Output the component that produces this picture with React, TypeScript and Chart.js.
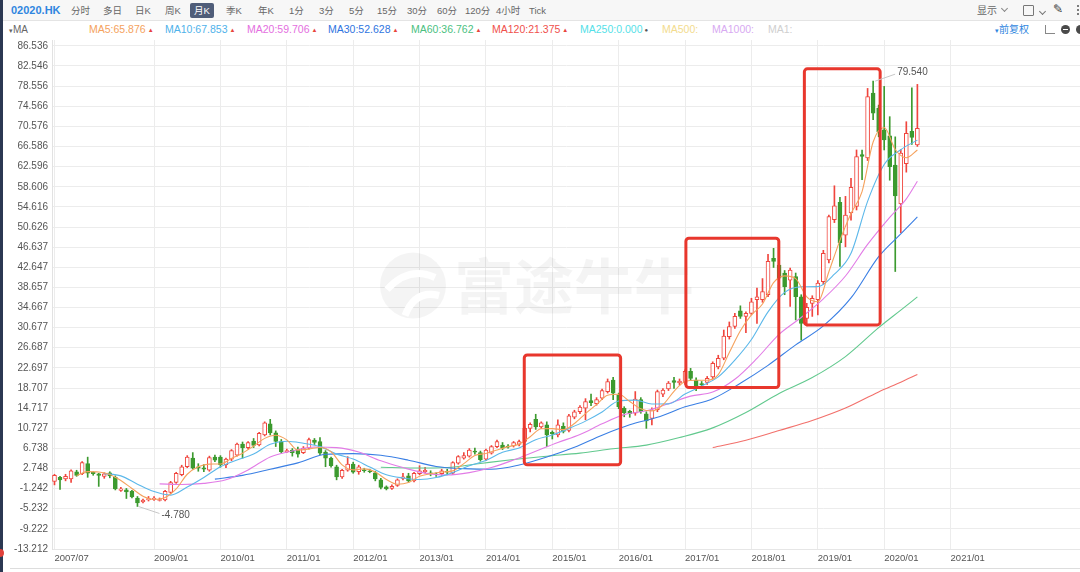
import React, { useEffect, useRef } from 'react';
import { Chart, registerables } from 'chart.js';

Chart.register(...registerables);

// Monthly candles, index 0 = 2007/07
const OPEN = [
  0.2, 1.0, 0.7, 0.7, 2.1, 1.7, 3.7, 2.0, 1.7, 1.2,
  1.9, 1.0, -1.6, -1.5, -1.8, -3.1, -3.9, -3.5, -3.4, -3.5,
  -3.5, -2.0, 0.0, 1.5, 3.1, 4.8, 3.1, 2.9, 2.4, 5.0,
  5.0, 3.5, 4.6, 5.4, 7.6, 6.9, 8.2, 7.4, 9.4, 11.6,
  9.8, 8.1, 6.1, 6.4, 6.6, 5.9, 6.8, 8.4, 8.1, 6.0,
  4.8, 3.1, 1.1, 2.4, 3.6, 2.1, 2.5, 2.3, 1.9, 0.5,
  -0.9, -1.2, -0.6, 0.8, 1.3, 0.3, 1.7, 2.1, 1.9, 1.6,
  1.7, 2.2, 1.8, 3.8, 4.8, 5.2, 6.2, 5.9, 4.6, 5.8,
  7.1, 7.4, 7.2, 7.2, 7.5, 8.1, 10.7, 12.5, 11.0, 11.4,
  9.9, 9.4, 11.1, 10.3, 12.9, 14.0, 14.7, 16.2, 15.6, 16.7,
  18.0, 20.3, 17.3, 14.7, 14.1, 13.7, 16.4, 13.6, 12.7, 14.4,
  17.5, 18.5, 20.2, 19.7, 19.7, 22.0, 20.3, 19.6, 19.8, 20.9,
  22.9, 24.6, 28.9, 30.9, 34.0, 32.9, 33.5, 36.2, 36.2, 37.2,
  44.4, 43.1, 41.5, 40.1, 40.8, 36.8, 32.5, 35.5, 36.2, 39.8,
  44.1, 52.1, 55.5, 49.0, 53.4, 54.7, 65.0, 64.3, 77.2, 74.2,
  69.9, 68.7, 62.9, 55.2, 63.2, 69.6, 66.9,
];
const HIGH = [
  1.6, 1.2, 1.6, 2.5, 2.4, 4.1, 5.0, 2.1, 1.8, 1.9,
  2.1, 1.3, -1.0, -1.2, -1.6, -2.8, -3.3, -2.8, -2.8, -3.1,
  -1.6, 0.2, 2.0, 3.4, 5.3, 5.9, 3.7, 3.5, 5.2, 5.4,
  5.3, 4.8, 6.5, 7.8, 8.0, 8.1, 8.7, 9.9, 12.0, 12.5,
  10.2, 8.5, 6.6, 6.7, 7.0, 7.1, 8.8, 8.7, 8.9, 6.3,
  5.0, 3.4, 2.6, 5.1, 4.0, 3.4, 2.8, 2.6, 2.2, 0.8,
  -0.7, -0.5, 0.7, 1.8, 1.8, 2.0, 3.3, 3.0, 2.3, 1.9,
  2.6, 2.6, 4.1, 5.3, 5.9, 6.7, 6.8, 6.2, 6.6, 7.3,
  8.4, 7.9, 7.5, 8.1, 8.4, 11.0, 11.8, 13.5, 12.0, 12.0,
  10.2, 12.4, 11.8, 13.5, 14.3, 15.2, 16.6, 17.5, 16.8, 18.5,
  20.5, 20.8, 17.7, 15.0, 14.3, 18.0, 16.8, 14.0, 14.8, 18.3,
  18.6, 20.0, 20.8, 20.5, 22.3, 22.6, 20.7, 20.0, 21.0, 23.9,
  25.2, 30.2, 31.8, 33.5, 35.0, 33.8, 36.5, 38.5, 40.4, 45.2,
  46.4, 43.5, 42.0, 42.5, 41.5, 37.2, 35.5, 37.0, 40.0, 46.0,
  53.0, 58.8, 56.5, 56.7, 60.3, 65.9, 65.9, 78.1, 79.54, 74.8,
  78.5, 72.5, 68.5, 66.0, 71.5, 78.2, 78.9,
];
const LOW = [
  -0.5, -1.4, 0.3, 0.0, 1.2, 1.5, 1.0, 1.4, -0.8, 0.8,
  0.9, -1.5, -1.8, -3.2, -3.1, -4.78, -4.1, -3.7, -3.6, -3.7,
  -3.7, -2.2, -0.2, 1.3, 2.9, 2.6, 2.2, 2.1, 2.2, 4.1,
  3.0, 2.9, 4.3, 5.2, 4.8, 6.6, 6.9, 7.2, 9.2, 9.4,
  7.1, 5.8, 5.9, 5.2, 5.0, 5.7, 6.6, 7.5, 5.5, 3.1,
  3.0, 0.5, 0.8, 2.2, 1.8, 1.6, 2.0, 1.9, 0.3, -1.3,
  -1.5, -1.4, -0.8, 0.5, 0.0, 0.1, 1.5, 1.8, 1.3, 1.2,
  1.4, 1.5, 1.6, 3.6, 4.6, 5.0, 5.6, 4.2, 4.3, 5.6,
  6.9, 6.5, 6.8, 7.0, 7.2, 7.8, 10.0, 10.5, 10.7, 7.1,
  8.6, 9.0, 9.8, 10.0, 12.6, 13.6, 12.4, 15.2, 15.3, 16.4,
  17.7, 16.4, 14.6, 13.0, 12.9, 13.3, 13.7, 10.7, 11.4, 14.0,
  17.0, 18.2, 18.6, 19.3, 19.4, 20.2, 18.2, 18.8, 19.4, 20.5,
  22.5, 24.3, 28.4, 30.5, 32.5, 29.7, 33.2, 31.5, 35.7, 36.8,
  42.6, 40.0, 37.2, 34.9, 32.2, 28.2, 31.0, 32.9, 33.2, 39.3,
  43.5, 51.5, 42.8, 46.7, 52.0, 54.0, 60.0, 63.8, 71.9, 68.5,
  65.9, 59.9, 41.8, 49.5, 61.5, 67.0, 66.6,
];
const CLOSE = [
  1.4, 0.5, 1.2, 2.3, 1.4, 3.9, 1.8, 1.7, 1.4, 1.7,
  1.3, -1.3, -1.3, -1.9, -2.9, -4.1, -3.5, -3.2, -3.1, -3.4,
  -1.8, -0.05, 1.8, 3.1, 5.0, 2.8, 2.8, 2.6, 4.9, 4.4,
  3.5, 4.6, 6.3, 7.6, 6.9, 7.9, 7.3, 9.7, 11.8, 9.8,
  8.1, 6.1, 6.3, 5.9, 5.6, 6.8, 8.5, 7.9, 5.8, 4.8,
  3.3, 1.1, 2.4, 3.6, 2.0, 3.1, 2.3, 2.1, 0.7, -1.0,
  -1.3, -0.8, 0.5, 1.1, 0.3, 1.8, 2.3, 2.4, 1.7, 1.5,
  2.3, 2.0, 3.9, 5.1, 5.3, 6.4, 6.0, 4.5, 6.4, 7.1,
  8.1, 6.8, 7.0, 7.9, 8.1, 10.7, 11.5, 11.0, 11.8, 9.4,
  9.6, 11.4, 10.1, 13.2, 14.0, 14.9, 16.0, 15.8, 16.4, 18.2,
  20.0, 17.7, 15.0, 13.8, 13.6, 16.5, 14.0, 12.2, 14.4, 18.0,
  18.3, 19.7, 19.8, 20.1, 22.0, 20.6, 18.7, 19.3, 20.6, 23.6,
  24.6, 29.0, 30.9, 32.9, 32.9, 33.5, 35.8, 36.8, 37.8, 43.8,
  43.8, 40.5, 38.8, 42.1, 36.8, 31.5, 34.7, 36.5, 39.5, 45.4,
  52.7, 54.8, 47.5, 53.0, 58.5, 64.6, 64.6, 76.5, 73.2, 69.5,
  67.9, 62.6, 56.8, 65.3, 69.2, 68.4, 70.2,
];

// Moving averages: [month index, value]
const MA5: [number, number][] = [
  [4, 1.36], [6, 2.12], [8, 2.04], [10, 1.58], [12, 0.36], [14, -1.22], [16, -2.74], [18, -3.36],
  [20, -3.0], [22, -1.31], [24, 1.61], [26, 3.1], [28, 3.62], [30, 3.64], [32, 4.74], [34, 5.78],
  [36, 7.2], [38, 8.72], [40, 9.34], [42, 8.42], [44, 6.4], [46, 6.62], [48, 6.92], [50, 6.06],
  [52, 3.48], [54, 2.48], [56, 2.68], [58, 2.04], [60, 0.56], [62, -0.38], [64, -0.04], [66, 1.2],
  [68, 1.7], [70, 2.04], [72, 2.28], [74, 3.72], [76, 5.34], [78, 5.72], [80, 6.42], [82, 7.08],
  [84, 7.58], [86, 9.04], [88, 10.62], [90, 10.66], [92, 10.46], [94, 11.66], [96, 13.64], [98, 15.42],
  [100, 17.28], [102, 17.46], [104, 16.02], [106, 14.58], [108, 14.14], [110, 15.38], [112, 18.04],
  [114, 19.98], [116, 20.24], [118, 20.24], [120, 21.36], [122, 25.74], [124, 30.06], [126, 33.2],
  [128, 35.36], [130, 39.6], [132, 40.94], [134, 40.4], [136, 36.78], [138, 35.8], [140, 41.76],
  [142, 47.98], [144, 53.3], [146, 57.64], [148, 67.48], [150, 70.34], [152, 66.0], [154, 64.36],
  [156, 65.88],
];
const MA10: [number, number][] = [
  [9, 1.73], [12, 1.29], [15, -0.36], [18, -1.83], [21, -2.53], [24, -0.93], [27, 0.98], [30, 3.09],
  [33, 4.45], [36, 5.6], [39, 7.54], [42, 8.15], [45, 7.74], [48, 7.08], [51, 5.6], [54, 4.62],
  [57, 3.05], [60, 1.5], [63, 0.87], [66, 0.57], [69, 0.95], [72, 1.93], [75, 3.29], [78, 4.34],
  [81, 5.96], [84, 6.83], [87, 8.46], [90, 9.38], [93, 10.68], [96, 12.14], [99, 13.96], [102, 16.12],
  [105, 16.3], [108, 15.54], [111, 15.55], [114, 17.5], [117, 19.09], [120, 20.9], [123, 24.22],
  [126, 28.31], [129, 33.8], [132, 37.66], [135, 38.77], [138, 38.8], [141, 41.28], [144, 45.41],
  [147, 55.71], [150, 63.01], [153, 65.95], [156, 67.85],
];
const MA20: [number, number][] = [
  [19, -0.3], [23, -0.42], [27, -0.2], [31, 0.51], [35, 2.46], [39, 5.05], [43, 6.22], [47, 7.0],
  [51, 6.88], [55, 6.0], [59, 4.27], [63, 2.93], [67, 1.83], [71, 1.45], [75, 1.93], [79, 2.93],
  [83, 4.44], [87, 6.17], [91, 7.9], [95, 9.48], [99, 11.6], [103, 13.43], [107, 14.18], [111, 15.59],
  [115, 17.1], [119, 17.9], [123, 20.44], [127, 24.58], [131, 29.35], [135, 32.69], [139, 36.38],
  [143, 40.91], [147, 47.17], [151, 52.54], [154, 56.2], [156, 59.71],
];
const MA30: [number, number][] = [
  [29, 0.65], [34, 1.39], [39, 2.59], [44, 3.86], [49, 5.56], [54, 5.7], [59, 5.36], [64, 4.39],
  [69, 3.16], [74, 2.72], [79, 2.6], [84, 3.45], [89, 5.03], [94, 6.98], [99, 9.36], [104, 11.41],
  [109, 12.9], [114, 14.97], [119, 16.58], [124, 19.65], [129, 23.2], [134, 27.26], [139, 31.01],
  [144, 36.56], [149, 44.75], [153, 49.26], [156, 52.63],
];
const MA60: [number, number][] = [
  [59, 3.0], [65, 2.85], [71, 2.95], [77, 3.75], [83, 4.53], [89, 5.19], [95, 5.8], [101, 6.66],
  [107, 7.39], [113, 8.88], [119, 10.8], [125, 13.84], [131, 17.61], [137, 20.77], [143, 24.93],
  [149, 30.67], [153, 34.14], [156, 36.76],
];
const MA120: [number, number][] = [
  [119, 6.9], [125, 8.35], [131, 10.28], [137, 12.26], [143, 14.73], [149, 17.93], [153, 19.85], [156, 21.38],
];

const Y_TICK_LABELS = [
  '86.536', '82.546', '78.556', '74.566', '70.576', '66.586', '62.596', '58.606', '54.616',
  '50.626', '46.637', '42.647', '38.657', '34.667', '30.677', '26.687', '22.697', '18.707',
  '14.717', '10.727', '6.738', '2.748', '-1.242', '-5.232', '-9.222', '-13.212',
];
const X_TICK_INDEX = [0, 18, 30, 42, 54, 66, 78, 90, 102, 114, 126, 138, 150, 162];
const X_TICK_LABELS = [
  '2007/07', '2009/01', '2010/01', '2011/01', '2012/01', '2013/01', '2014/01',
  '2015/01', '2016/01', '2017/01', '2018/01', '2019/01', '2020/01', '2021/01',
];
const Y_MIN = -13.212;
const Y_MAX = 87.7;
const X_MIN = -0.45;
const X_MAX = 185.4;

// highlighted ranges [from month, to month, upper value, lower value]
const BOX_FROM = [84.93, 114.15, 135.57];
const BOX_TO = [102.35, 130.95, 149.27];
const BOX_TOP = [25.27, 48.41, 81.98];
const BOX_BOTTOM = [3.47, 18.79, 31.22];

const LOW_MARK = { index: 15, value: -4.78, label: '-4.780' };
const HIGH_MARK = { index: 148, value: 79.54, label: '79.540' };

const TABS = ['分时', '多日', '日K', '周K', '月K', '季K', '年K', '1分', '3分', '5分', '15分', '30分', '60分', '120分', '4小时', 'Tick'];
const TAB_LEFT = [71, 103, 135, 165, 194, 226, 258, 289, 319, 349, 377, 407, 437, 465, 496, 529];
const LEGEND_NAMES = ['MA5', 'MA10', 'MA20', 'MA30', 'MA60', 'MA120', 'MA250', 'MA500', 'MA1000', 'MA1'];
const LEGEND_VALUES = ['65.876', '67.853', '59.706', '52.628', '36.762', '21.375', '0.000', '', '', ''];
const LEGEND_COLORS = ['#f5a25d', '#4fb2ea', '#e46fe0', '#2f74e0', '#4cbf7f', '#f0504b', '#55dfe8', '#f3dc8e', '#d8aaf2', '#cfcfcf'];
const LEGEND_MARK = ['▲', '▲', '▲', '▲', '▲', '▲', '●', '', '', ''];
const LEGEND_LEFT = [89, 165, 247, 328, 411, 492, 580, 662, 712, 768];

const LINE_COLORS = ['#f5a25d', '#5cb8ea', '#e27ce6', '#3a7fe4', '#62c98e', '#f2706b'];
const UP = '#f0453d';
const DOWN = '#3c9a2f';

const FONT = '"Liberation Sans", Arial, "Noto Sans CJK SC", sans-serif';

const overlayPlugin = {
  id: 'overlay',
  beforeDatasetsDraw(chart: any) {
    const { ctx, chartArea: ca } = chart;
    const cx = (ca.left + ca.right) / 2;
    const cy = (ca.top + ca.bottom) / 2;
    ctx.save();
    ctx.fillStyle = 'rgba(0,0,0,0.045)';
    ctx.font = 'bold 60px "Noto Sans CJK SC"';
    ctx.textBaseline = 'middle';
    ctx.textAlign = 'left';
    ctx.fillText('富途牛牛', cx - 112, cy - 8);
    // logo
    const lx = cx - 153;
    const ly = cy - 9;
    ctx.beginPath();
    ctx.arc(lx, ly, 33, 0, Math.PI * 2);
    ctx.fill();
    ctx.strokeStyle = '#ffffff';
    ctx.lineWidth = 7;
    ctx.beginPath();
    ctx.moveTo(lx - 26, ly + 4);
    ctx.quadraticCurveTo(lx - 4, ly - 20, lx + 22, ly - 8);
    ctx.stroke();
    ctx.beginPath();
    ctx.moveTo(lx - 8, ly + 30);
    ctx.quadraticCurveTo(lx + 2, ly + 4, lx + 26, ly + 10);
    ctx.stroke();
    ctx.restore();
  },
  afterDatasetsDraw(chart: any) {
    const { ctx } = chart;
    const xs = chart.scales.x;
    const ys = chart.scales.y;
    ctx.save();
    ctx.strokeStyle = '#e8372d';
    ctx.lineWidth = 3;
    for (let i = 0; i < BOX_FROM.length; i++) {
      const x0 = xs.getPixelForValue(BOX_FROM[i]);
      const x1 = xs.getPixelForValue(BOX_TO[i]);
      const y0 = ys.getPixelForValue(BOX_TOP[i]);
      const y1 = ys.getPixelForValue(BOX_BOTTOM[i]);
      ctx.beginPath();
      (ctx as any).roundRect(x0, y0, x1 - x0, y1 - y0, 3);
      ctx.stroke();
    }
    ctx.lineWidth = 1;
    ctx.strokeStyle = '#c8c8c8';
    ctx.fillStyle = '#555';
    ctx.font = '10px ' + FONT;
    ctx.textBaseline = 'middle';
    ctx.textAlign = 'left';
    let px = xs.getPixelForValue(LOW_MARK.index);
    let py = ys.getPixelForValue(LOW_MARK.value);
    ctx.beginPath();
    ctx.moveTo(px + 1, py);
    ctx.lineTo(px + 22, py + 7);
    ctx.stroke();
    ctx.fillText(LOW_MARK.label, px + 24, py + 9);
    px = xs.getPixelForValue(HIGH_MARK.index);
    py = ys.getPixelForValue(HIGH_MARK.value);
    ctx.beginPath();
    ctx.moveTo(px + 2, py);
    ctx.lineTo(px + 22, py - 7);
    ctx.stroke();
    ctx.fillText(HIGH_MARK.label, px + 24, py - 9);
    ctx.restore();
  },
};

function Chevron({ color = '#888' }: { color?: string }) {
  return (
    <span
      style={{
        display: 'inline-block',
        width: 4,
        height: 4,
        borderRight: `1px solid ${color}`,
        borderBottom: `1px solid ${color}`,
        transform: 'rotate(45deg)',
        marginLeft: 5,
        marginBottom: 3,
      }}
    />
  );
}

export default function App() {
  const ref = useRef<HTMLCanvasElement>(null);

  useEffect(() => {
    const idx = CLOSE.map((_, i) => i);
    const isUp = (i: number) => CLOSE[i] >= OPEN[i];
    const maSets = [MA5, MA10, MA20, MA30, MA60, MA120].map((arr, k) => ({
      type: 'line' as const,
      label: ['MA5', 'MA10', 'MA20', 'MA30', 'MA60', 'MA120'][k],
      data: arr.map(([x, y]) => ({ x, y })),
      borderColor: LINE_COLORS[k],
      borderWidth: 1.1,
      pointRadius: 0,
      cubicInterpolationMode: 'monotone' as const,
      spanGaps: true,
      order: 0,
    }));

    const chart = new Chart(ref.current as HTMLCanvasElement, {
      type: 'bar',
      data: {
        datasets: [
          ...maSets,
          {
            type: 'bar',
            label: 'body',
            data: idx.map((i) => ({ x: i, y: [OPEN[i], CLOSE[i]] })) as any,
            backgroundColor: idx.map((i) => (isUp(i) ? '#ffffff' : DOWN)),
            borderColor: idx.map((i) => (isUp(i) ? UP : DOWN)),
            borderWidth: 1,
            borderSkipped: false,
            maxBarThickness: 4,
            barPercentage: 1,
            categoryPercentage: 1,
            minBarLength: 1,
            grouped: false,
            order: 1,
          } as any,
          {
            type: 'bar',
            label: 'wick',
            data: idx.map((i) => ({ x: i, y: [LOW[i], HIGH[i]] })) as any,
            backgroundColor: idx.map((i) => (isUp(i) ? UP : DOWN)),
            borderWidth: 0,
            maxBarThickness: 1,
            barPercentage: 1,
            categoryPercentage: 1,
            grouped: false,
            order: 2,
          } as any,
        ],
      },
      options: {
        animation: false,
        responsive: false,
        maintainAspectRatio: false,
        events: [],
        layout: { padding: { top: 40, left: 0, right: 0, bottom: 0 } },
        plugins: { legend: { display: false }, tooltip: { enabled: false } },
        scales: {
          x: {
            type: 'linear',
            min: X_MIN,
            max: X_MAX,
            bounds: 'data',
            offset: false,
            grid: { color: '#ececec', drawTicks: false, offset: false },
            border: { display: true, color: '#e6e6e6' },
            afterBuildTicks: (scale: any) => {
              scale.ticks = X_TICK_INDEX.map((v) => ({ value: v }));
            },
            afterFit: (scale: any) => {
              scale.height = 23;
            },
            ticks: {
              autoSkip: false,
              maxRotation: 0,
              align: 'start',
              padding: 4,
              color: '#555',
              font: { size: 9.5, family: FONT },
              callback: (_v: any, i: number) => X_TICK_LABELS[i],
            },
          } as any,
          y: {
            type: 'linear',
            min: Y_MIN,
            max: Y_MAX,
            bounds: 'data',
            grid: { color: '#ececec', drawTicks: false },
            border: { display: true, color: '#e2e2e2' },
            afterBuildTicks: (scale: any) => {
              scale.ticks = Y_TICK_LABELS.map((s) => ({ value: parseFloat(s) }));
            },
            afterFit: (scale: any) => {
              scale.width = 52;
            },
            ticks: {
              autoSkip: false,
              padding: 4,
              color: '#555',
              font: { size: 10, family: FONT },
              callback: (_v: any, i: number) => Y_TICK_LABELS[i],
            },
          } as any,
        },
      } as any,
      plugins: [overlayPlugin],
    });
    return () => chart.destroy();
  }, []);

  const dot = (top: number) => (
    <span style={{ position: 'absolute', left: 1077, top, width: 2, height: 2, borderRadius: 1, background: '#555' }} />
  );

  return (
    <div
      style={{
        position: 'fixed',
        left: 0,
        top: 0,
        width: 1080,
        height: 572,
        background: '#fff',
        overflow: 'hidden',
        fontFamily: FONT,
      }}
    >
      <canvas ref={ref} width={1080} height={572} style={{ position: 'absolute', left: 0, top: 0, width: 1080, height: 572 }} />
      <div style={{ position: 'absolute', left: 0, top: 0, width: 1080, height: 20, background: '#f7f7f7', borderBottom: '1px solid #e4e4e4' }}>
        <span style={{ position: 'absolute', left: 11, top: 4, fontSize: 11, fontWeight: 'bold', color: '#2f86e0', lineHeight: '13px' }}>02020.HK</span>
        {TABS.map((t, i) =>
          t === '月K' ? (
            <span
              key={t}
              style={{
                position: 'absolute',
                left: TAB_LEFT[i] - 4,
                top: 3,
                height: 15,
                lineHeight: '15px',
                padding: '0 4px',
                background: '#4f5d79',
                color: '#fff',
                fontSize: 9.5,
                borderRadius: 2,
              }}
            >
              {t}
            </span>
          ) : (
            <span key={t} style={{ position: 'absolute', left: TAB_LEFT[i], top: 4, fontSize: 9.5, lineHeight: '13px', color: '#666' }}>
              {t}
            </span>
          )
        )}
        <span style={{ position: 'absolute', left: 977, top: 4, fontSize: 10, lineHeight: '13px', color: '#666' }}>
          显示<Chevron />
        </span>
        <span style={{ position: 'absolute', left: 1023, top: 5, width: 9, height: 9, border: '1px solid #777', borderRadius: 1 }} />
        <span style={{ position: 'absolute', left: 1035, top: 3 }}>
          <Chevron color="#777" />
        </span>
        <span style={{ position: 'absolute', left: 1053, top: 2, fontSize: 12, color: '#333', lineHeight: '15px' }}>✎</span>
        {dot(5)}
        {dot(9)}
        {dot(13)}
      </div>
      <div style={{ position: 'absolute', left: 0, top: 21, width: 1080, height: 17, background: '#fff' }}>
        <span style={{ position: 'absolute', left: 9, top: 2, fontSize: 10, lineHeight: '13px', color: '#666' }}>
          <span style={{ fontSize: 7, verticalAlign: 'middle' }}>▾</span>MA
        </span>
        {LEGEND_NAMES.map((n, i) => (
          <span key={n} style={{ position: 'absolute', left: LEGEND_LEFT[i], top: 2, fontSize: 10.5, lineHeight: '13px', color: LEGEND_COLORS[i], whiteSpace: 'nowrap' }}>
            {n}:{LEGEND_VALUES[i]}
            {LEGEND_MARK[i] && (
              <span style={{ fontSize: 6, marginLeft: 2, verticalAlign: 'middle', color: LEGEND_MARK[i] === '●' ? '#555' : '#e8453c' }}>{LEGEND_MARK[i]}</span>
            )}
          </span>
        ))}
        <span style={{ position: 'absolute', left: 995, top: 2, fontSize: 10, lineHeight: '13px', color: '#2f86e0' }}>
          <span style={{ fontSize: 7, verticalAlign: 'middle' }}>▾</span>前复权
        </span>
        <span style={{ position: 'absolute', left: 1045, top: 4, width: 9, height: 8, borderLeft: '1px solid #888', borderBottom: '1px solid #888' }} />
        <span style={{ position: 'absolute', left: 1061, top: 4, width: 9, height: 9, borderRadius: '50%', background: '#4a4a4a' }}>
          <span style={{ position: 'absolute', left: 2, top: 4, width: 5, height: 1, background: '#fff' }} />
        </span>
        <span style={{ position: 'absolute', left: 1076, top: 4, width: 9, height: 9, borderRadius: '50%', background: '#4a4a4a' }} />
      </div>
      <div style={{ position: 'absolute', left: 0, top: 0, width: 3, height: 572, background: '#2b3852' }} />
      <div style={{ position: 'absolute', left: -4, top: 549, width: 8, height: 8, borderRadius: '50%', background: '#e0413a' }} />
      <div style={{ position: 'absolute', left: 10, top: 568, width: 1070, height: 1, background: '#dddddd' }} />
    </div>
  );
}
